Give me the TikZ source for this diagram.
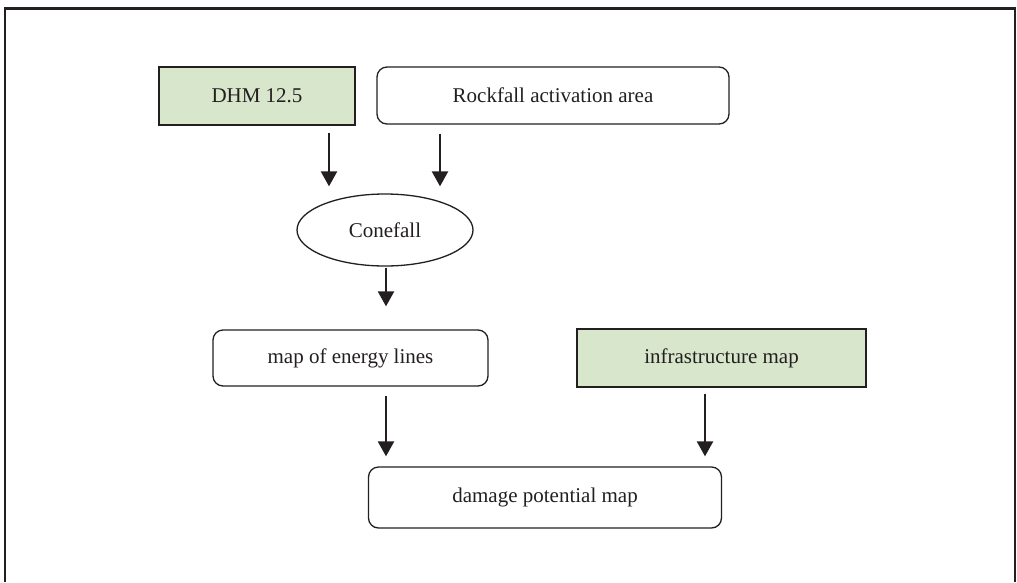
\documentclass[tikz,border=0pt]{standalone}
\usepackage{fontspec}
\setmainfont{Liberation Serif}
\usetikzlibrary{arrows.meta,shapes.geometric}
\definecolor{boxgreen}{RGB}{216,231,204}
\definecolor{ink}{RGB}{35,31,32}
\begin{document}
\begin{tikzpicture}[x=1pt,y=-1pt,
  every node/.style={font=\fontsize{21}{24}\selectfont, text=ink},
  rbox/.style={draw=ink, line width=1.3pt, rounded corners=10pt, inner sep=0pt},
  gbox/.style={draw=ink, line width=1.3pt, fill=boxgreen, inner sep=0pt},
  oval/.style={draw=ink, line width=1.3pt, ellipse, inner sep=0pt},
  arr/.style={draw=ink, line width=2.4pt, -{Triangle[width=16pt,length=15pt]}},
  frame/.style={draw=ink, line width=2.6pt}
]
\useasboundingbox (0,0) rectangle (1017,582);
\draw[frame] (5,582) -- (5,8.5) -- (1015,8.5) -- (1015,582);

\node[gbox, minimum width=196pt, minimum height=58pt] (dhm) at (257,96) {DHM 12.5};
\node[rbox, minimum width=352pt, minimum height=57pt] (rock) at (553,95.5) {Rockfall activation area};
\node[oval, minimum width=176pt, minimum height=72pt] (cone) at (385,230) {Conefall};
\node[rbox, minimum width=275pt, minimum height=56pt] (energy) at (350.5,358) {map of energy lines};
\node[gbox, minimum width=289pt, minimum height=58pt] (infra) at (721.5,358) {infrastructure map};
\node[rbox, minimum width=353pt, minimum height=61pt] (damage) at (545,497.5) {damage potential map};

\draw[arr] ([xshift=72pt,yshift=-7pt]dhm.south) -- ([xshift=-56pt,yshift=7pt]cone.north);
\draw[arr] ([xshift=-113pt,yshift=-9pt]rock.south) -- ([xshift=55pt,yshift=7pt]cone.north);
\draw[arr] ([xshift=1pt,yshift=-1pt]cone.south) -- ([xshift=35.5pt,yshift=23pt]energy.north);
\draw[arr] ([xshift=35.5pt,yshift=-9pt]energy.south) -- ([xshift=-159pt,yshift=10pt]damage.north);
\draw[arr] ([xshift=-16.5pt,yshift=-6pt]infra.south) -- ([xshift=160pt,yshift=10pt]damage.north);
\end{tikzpicture}
\end{document}
